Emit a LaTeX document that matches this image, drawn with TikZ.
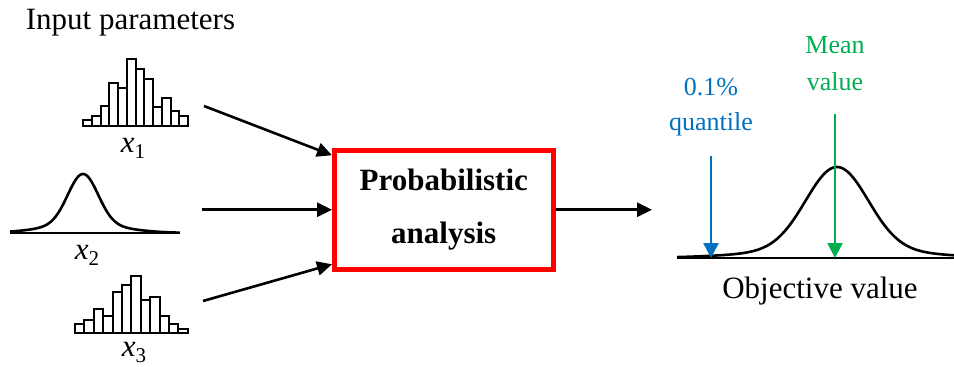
\documentclass[tikz,border=0pt]{standalone}
\usepackage{fontspec}
\setmainfont{Liberation Serif}
\usetikzlibrary{arrows.meta}
\definecolor{quantblue}{RGB}{0,112,192}
\definecolor{meangreen}{RGB}{0,176,80}
\newcommand{\invar}[1]{\textit{x}\raisebox{-0.22em}{\fontsize{21}{21}\selectfont #1}}

\begin{document}
\begin{tikzpicture}[x=1pt, y=-1pt,
		bar/.style={draw, line width=2pt, fill=white},
		curve/.style={line width=2.6pt, line join=round},
		flow/.style={line width=2.6pt, -{Triangle[length=15pt, width=14pt]}},
		marker/.style={line width=2.6pt, -{Triangle[length=15pt, width=15pt]}},
		lbl/.style={font=\fontsize{31}{37}\selectfont, inner sep=0pt, anchor=base},
		sidelbl/.style={font=\fontsize{26}{37}\selectfont, inner sep=0pt, anchor=base}]
		\useasboundingbox (0,0) rectangle (954,367);
		\node[lbl] (inputs) at (130.5,29) {Input parameters};
		% First input: histogram
		\foreach \h [count=\i] in {6,10.3,20,42.7,37.7,66.7,56.7,47,19.3,27.7,15,10.3}
			\draw[bar] ({83+(\i-1)*8.75},126) rectangle ++(8.75,-\h);
		\node[lbl] (x1) at (133,152) {\invar{1}};
		% Second input: bell curve
		\draw[curve] (10,233) -- (180,233);
		\draw[curve] plot[domain=10:180, samples=120, smooth] (\x, {233 - 50*exp(-(((\x-83)/10)^2)/4.5) - 9*exp(-(((\x-83)/10)^2)/28.9)});
		\node[lbl] (x2) at (87,259) {\invar{2}};
		% Third input: histogram
		\foreach \h [count=\i] in {9,13.3,24,17.3,40.7,48.3,57.3,33.3,36,17.3,9,4.3}
			\draw[bar] ({75+(\i-1)*9.4},333) rectangle ++(9.4,-\h);
		\node[lbl] (x3) at (134,356) {\invar{3}};
		% Analysis block
		\node[draw=red, line width=5pt, minimum width=218.5pt, minimum height=119.5pt, inner sep=0pt,
			font=\bfseries\fontsize{31}{53}\selectfont, align=center] (box) at (443.75,209.75) {Probabilistic\\analysis};
		\coordinate (in1) at (204,106);
		\coordinate (in2) at (202,209.75);
		\coordinate (in3) at (203,301);
		\coordinate (out) at (652,209.75);
		\draw[flow] (in1) -- (box.154);
		\draw[flow] (in2) -- (box.west);
		\draw[flow] (in3) -- (box.206);
		\draw[flow] (box.east) -- (out);
		% Output distribution
		\draw[curve] (677,258) -- (954,258);
		\draw[curve] plot[domain=677:954, samples=150, smooth] (\x, {258 - 82*exp(-(((\x-837)/10)^2)/19.22) - 9*exp(-(((\x-837)/10)^2)/112.5)});
		\node[sidelbl, quantblue] (quant1) at (711,95) {0.1\%};
		\node[sidelbl, quantblue] (quant2) at (711,130) {quantile};
		\node[sidelbl, meangreen] (mean1) at (835,53) {Mean};
		\node[sidelbl, meangreen] (mean2) at (835,90) {value};
		\coordinate (qtop) at (711,156);
		\coordinate (qbase) at (711,258);
		\coordinate (mtop) at (835,114);
		\coordinate (mbase) at (835,258);
		\draw[marker, quantblue] (qtop) -- (qbase);
		\draw[marker, meangreen] (mtop) -- (mbase);
		\node[lbl] (objective) at (820,298) {Objective value};
	\end{tikzpicture}
\end{document}
